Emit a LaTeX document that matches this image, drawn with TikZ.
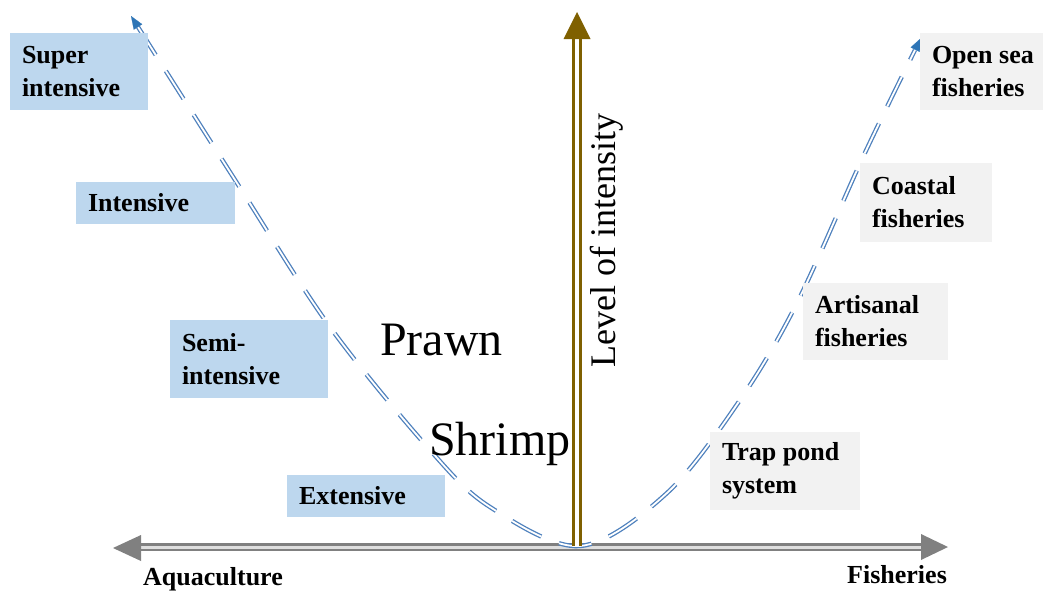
\documentclass[tikz,border=0pt]{standalone}
\usepackage{fontspec}
\setmainfont{Liberation Serif}
\usetikzlibrary{arrows.meta}
\definecolor{boxblue}{HTML}{BDD7EE}
\definecolor{boxgray}{HTML}{F2F2F2}
\definecolor{curveblue}{HTML}{4F81BD}
\definecolor{tipblue}{HTML}{2E75B6}
\definecolor{axisbrown}{HTML}{7F6000}
\definecolor{axisgray}{HTML}{808080}
\begin{document}
\begin{tikzpicture}[x=1pt,y=-1pt,
  boxbase/.style={inner sep=0pt, draw=none},
  bluebox/.style={boxbase, fill=boxblue},
  graybox/.style={boxbase, fill=boxgray},
  lbl/.style={font=\fontsize{26pt}{33pt}\selectfont\bfseries, inner xsep=12pt, inner ysep=0pt, align=left, anchor=west},
  bigtxt/.style={font=\fontsize{48pt}{56pt}\selectfont, inner sep=0pt, anchor=base west},
  curvestyle/.style={draw=curveblue, line width=1.3pt, double=white, double distance=1.8pt, dash pattern=on 33pt off 19pt},
  tipstyle/.style={tipblue, line width=0.2pt, -{Triangle[length=13pt,width=10pt]}},
 ]
\useasboundingbox (0,0) rectangle (1047,590);

% horizontal axis
\coordinate (axL) at (139,547);
\coordinate (axR) at (923,547);
\draw[axisgray, line width=2.4pt, double=gray!25, double distance=3pt] (axL) -- (axR);
\fill[axisgray] (113,548) -- (141,535) -- (141,561) -- cycle;
\fill[axisgray] (948,547) -- (921,534) -- (921,560) -- cycle;

% dashed curve
\coordinate (cL) at (131,16);
\coordinate (cLb) at (138,27);
\coordinate (cR) at (921,38);
\coordinate (cRb) at (915,50);
\draw[curvestyle] plot[smooth, tension=0.55] coordinates {(cLb) (237,183) (330,327) (430,450) (490,507) (580,546) (667,493) (740,400) (797,303) (863,157) (cRb)};
\draw[tipstyle] (cLb) -- (cL);
\draw[tipstyle] (cRb) -- (cR);

% vertical axis
\coordinate (vB) at (577,546);
\coordinate (vT) at (577,38);
\draw[axisbrown, line width=3pt, double=white, double distance=3.5pt] (vB) -- (vT);
\fill[axisbrown] (577,12) -- (590.5,39) -- (563.5,39) -- cycle;

% left boxes
\node[bluebox, minimum width=138pt, minimum height=77pt] (super) at (79,71.5) {};
\node[lbl] (supert) at (super.west) {Super\\intensive};
\node[bluebox, minimum width=159pt, minimum height=42pt] (intens) at (155.5,203) {};
\node[lbl] (intenst) at (intens.west) {Intensive};
\node[bluebox, minimum width=158pt, minimum height=78pt] (semi) at (249,359) {};
\node[lbl] (semit) at (semi.west) {Semi-\\intensive};
\node[bluebox, minimum width=158pt, minimum height=42pt] (ext) at (366,496) {};
\node[lbl] (extt) at (ext.west) {Extensive};

% right boxes
\node[graybox, minimum width=123pt, minimum height=77pt] (open) at (981.5,71.5) {};
\node[lbl] (opent) at (open.west) {Open sea\\fisheries};
\node[graybox, minimum width=132pt, minimum height=79pt] (coast) at (926,202.5) {};
\node[lbl] (coastt) at (coast.west) {Coastal\\fisheries};
\node[graybox, minimum width=145pt, minimum height=77pt] (arti) at (875.5,321.5) {};
\node[lbl] (artit) at (arti.west) {Artisanal\\fisheries};
\node[graybox, minimum width=150pt, minimum height=78pt] (trap) at (785,471) {};
\node[lbl] (trapt) at (trap.west) {Trap pond\\system};

% big labels
\node[bigtxt] (prawn) at (380,355) {Prawn};
\node[bigtxt] (shrimp) at (429,455) {Shrimp};
\node[font=\fontsize{36pt}{40pt}\selectfont, inner sep=0pt, anchor=base west, rotate=90] (level) at (615,368) {Level of intensity};

% axis labels
\node[font=\fontsize{26pt}{30pt}\selectfont\bfseries, inner sep=0pt, anchor=base west] (aqua) at (143,585) {Aquaculture};
\node[font=\fontsize{26pt}{30pt}\selectfont\bfseries, inner sep=0pt, anchor=base west] (fish) at (847,583) {Fisheries};
\end{tikzpicture}
\end{document}
